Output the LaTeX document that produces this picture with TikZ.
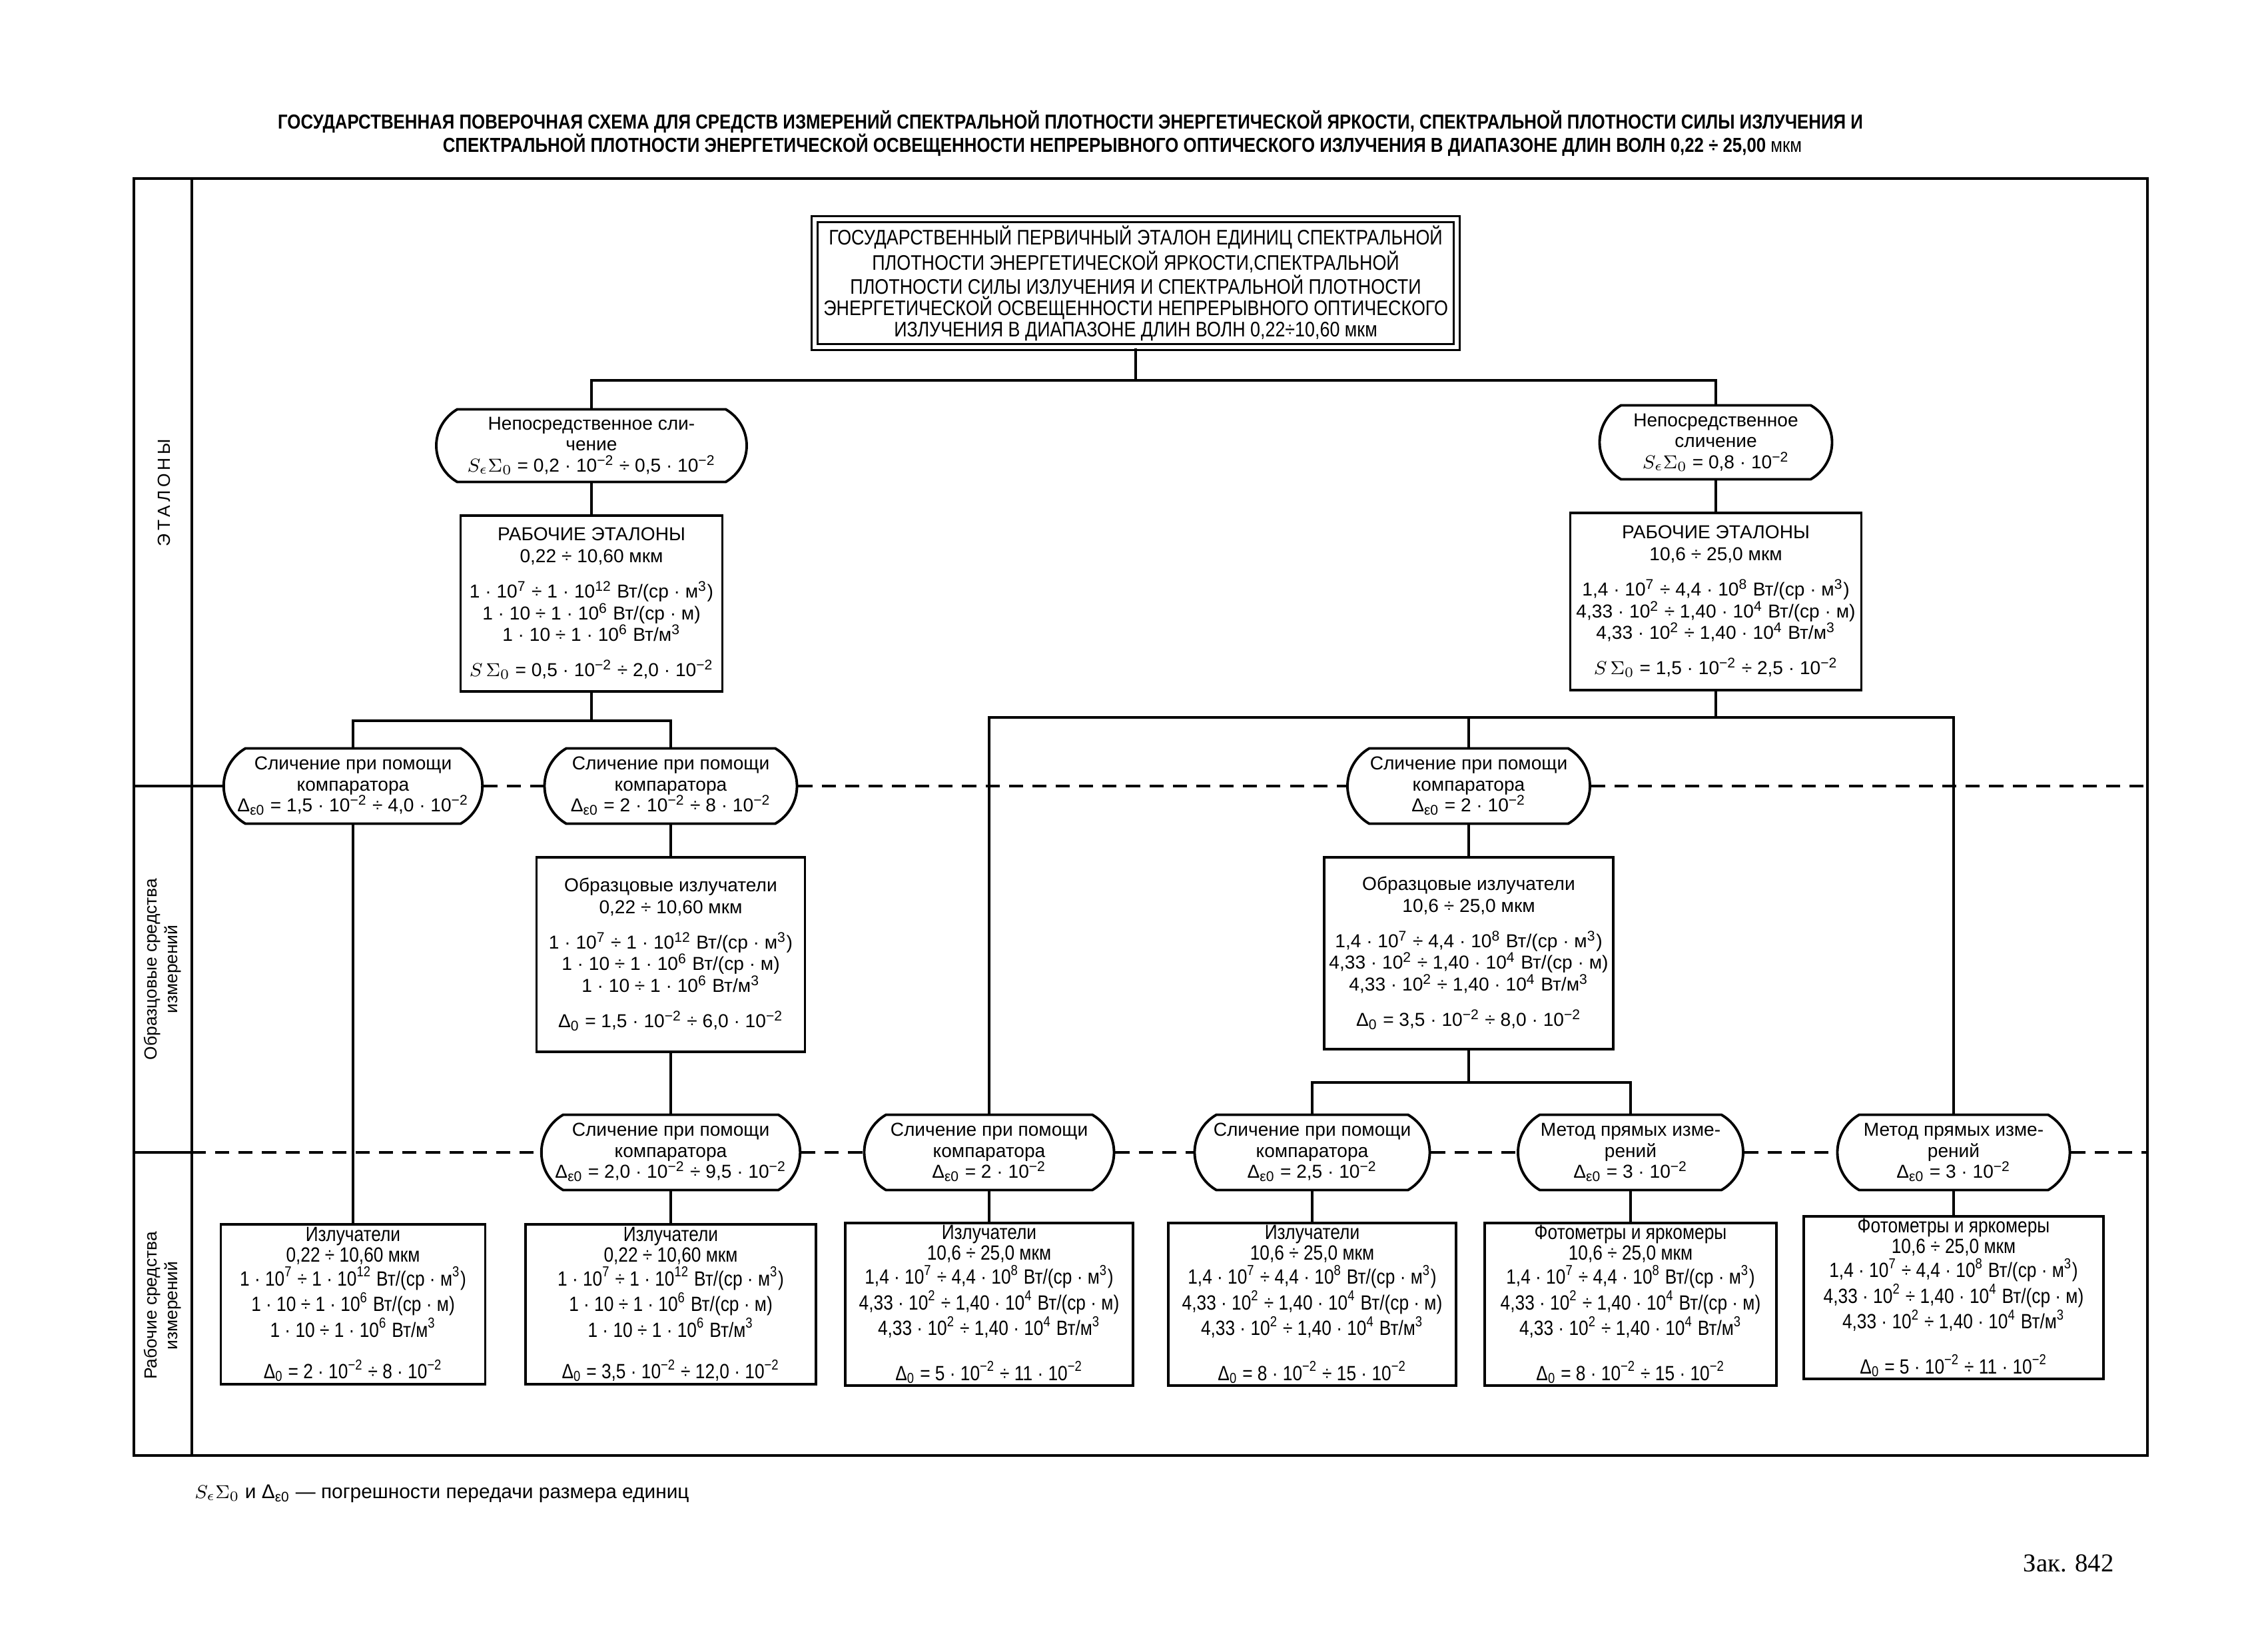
\documentclass[tikz,border=0pt]{standalone}
\usepackage{fontspec}
\setmainfont{Liberation Sans}
\newfontfamily\narrowfont[FakeStretch=0.85]{Liberation Sans}
\newfontfamily\spacedfont[LetterSpace=18]{Liberation Sans}
\newfontfamily\zakfont{Liberation Serif}
\usetikzlibrary{shapes.misc}
\newcommand{\pw}[1]{10\textsuperscript{#1}}
\newcommand{\Deo}{Δ\textsubscript{ε0}}
\newcommand{\Dno}{Δ\textsubscript{0}}
\newcommand{\Seo}{$S_{\epsilon}\Sigma_{0}$}
\newcommand{\Sso}{$S\,\Sigma_{0}$}
\tikzset{
  box/.style={draw, line width=1.1pt, align=center, inner sep=1pt,
    font=\fontsize{8}{9.2}\selectfont},
  lowbox/.style={box, font=\narrowfont\fontsize{8.8}{8.8}\selectfont},
  oval/.style={draw, rounded rectangle, rounded rectangle arc length=120,
    line width=1.1pt, align=center, inner sep=1pt, minimum height=1.13cm,
    font=\fontsize{8}{9}\selectfont},
  link/.style={line width=1pt},
  sep/.style={line width=1.2pt, dash pattern=on 6pt off 4pt},
  frameline/.style={line width=1.3pt},
  sidelabel/.style={rotate=90, align=center, font=\fontsize{7.5}{9}\selectfont}
}
\begin{document}
\begin{tikzpicture}
\useasboundingbox (0,0) rectangle (34.02,-24.80);
\fill[white] (0,0) rectangle (34.02,-24.80);

% title
\node[font=\narrowfont\bfseries\fontsize{8.65}{10}\selectfont] (title1) at (16.07,-1.83)
  {ГОСУДАРСТВЕННАЯ ПОВЕРОЧНАЯ СХЕМА ДЛЯ СРЕДСТВ ИЗМЕРЕНИЙ СПЕКТРАЛЬНОЙ ПЛОТНОСТИ ЭНЕРГЕТИЧЕСКОЙ ЯРКОСТИ, СПЕКТРАЛЬНОЙ ПЛОТНОСТИ СИЛЫ ИЗЛУЧЕНИЯ И};
\node[font=\narrowfont\bfseries\fontsize{8.65}{10}\selectfont] (title2) at (16.85,-2.18)
  {СПЕКТРАЛЬНОЙ ПЛОТНОСТИ ЭНЕРГЕТИЧЕСКОЙ ОСВЕЩЕННОСТИ НЕПРЕРЫВНОГО ОПТИЧЕСКОГО ИЗЛУЧЕНИЯ В ДИАПАЗОНЕ ДЛИН ВОЛН 0,22 ÷ 25,00 \mdseries мкм};

% frame and side column
\draw[frameline] (2.01,-2.68) rectangle (32.24,-21.85);
\draw[frameline] (2.88,-2.68) -- (2.88,-21.85);
\coordinate (s1l) at (2.01,-11.80);
\coordinate (s1r) at (32.24,-11.80);
\coordinate (s2l) at (2.01,-17.30);
\coordinate (s2m) at (2.88,-17.30);
\coordinate (s2r) at (32.24,-17.30);
\node[sidelabel, font=\spacedfont\fontsize{7.5}{9}\selectfont] (lab1) at (2.46,-7.40) {ЭТАЛОНЫ};
\node[sidelabel] (lab2) at (2.44,-14.55) {Образцовые средства\\измерений};
\node[sidelabel] (lab3) at (2.44,-19.60) {Рабочие средства\\измерений};

% primary standard
\node[box, double, double distance=1.6pt, line width=1pt, minimum width=9.64cm, minimum height=1.92cm,
  font=\narrowfont\fontsize{9}{9}\selectfont] (gpe) at (17.05,-4.25)
  {ГОСУДАРСТВЕННЫЙ ПЕРВИЧНЫЙ ЭТАЛОН ЕДИНИЦ СПЕКТРАЛЬНОЙ\\
   ПЛОТНОСТИ ЭНЕРГЕТИЧЕСКОЙ ЯРКОСТИ,СПЕКТРАЛЬНОЙ\\
   ПЛОТНОСТИ СИЛЫ ИЗЛУЧЕНИЯ И СПЕКТРАЛЬНОЙ ПЛОТНОСТИ\\
   ЭНЕРГЕТИЧЕСКОЙ ОСВЕЩЕННОСТИ НЕПРЕРЫВНОГО ОПТИЧЕСКОГО\\
   ИЗЛУЧЕНИЯ В ДИАПАЗОНЕ ДЛИН ВОЛН 0,22÷10,60 мкм};

% working standards
\node[oval, minimum width=4.73cm, minimum height=1.09cm] (ne1) at (8.88,-6.69)
  {Непосредственное сли-\\чение\\\Seo{} = 0,2 · \pw{−2} ÷ 0,5 · \pw{−2}};
\node[oval, minimum width=3.56cm, minimum height=1.11cm] (ne2) at (25.76,-6.64)
  {Непосредственное\\сличение\\\Seo{} = 0,8 · \pw{−2}};
\node[box, minimum width=3.93cm, minimum height=2.64cm] (we1) at (8.88,-9.06)
  {РАБОЧИЕ ЭТАЛОНЫ\\0,22 ÷ 10,60 мкм\\[6pt]
   1 · \pw{7} ÷ 1 · \pw{12} Вт/(ср · м\textsuperscript{3})\\
   1 · 10 ÷ 1 · \pw{6} Вт/(ср · м)\\
   1 · 10 ÷ 1 · \pw{6} Вт/м\textsuperscript{3}\\[6pt]
   \Sso{} = 0,5 · \pw{−2} ÷ 2,0 · \pw{−2}};
\node[box, minimum width=4.37cm, minimum height=2.66cm] (we2) at (25.76,-9.03)
  {РАБОЧИЕ ЭТАЛОНЫ\\10,6 ÷ 25,0 мкм\\[6pt]
   1,4 · \pw{7} ÷ 4,4 · \pw{8} Вт/(ср · м\textsuperscript{3})\\
   4,33 · \pw{2} ÷ 1,40 · \pw{4} Вт/(ср · м)\\
   4,33 · \pw{2} ÷ 1,40 · \pw{4} Вт/м\textsuperscript{3}\\[6pt]
   \Sso{} = 1,5 · \pw{−2} ÷ 2,5 · \pw{−2}};

% comparators, first row
\node[oval, minimum width=3.77cm] (c1) at (5.30,-11.80)
  {Сличение при помощи\\компаратора\\\Deo{} = 1,5 · \pw{−2} ÷ 4,0 · \pw{−2}};
\node[oval, minimum width=3.86cm] (c2) at (10.07,-11.80)
  {Сличение при помощи\\компаратора\\\Deo{} = 2 · \pw{−2} ÷ 8 · \pw{−2}};
\node[oval, minimum width=3.71cm] (c3) at (22.05,-11.80)
  {Сличение при помощи\\компаратора\\\Deo{} = 2 · \pw{−2}};

% reference emitters
\node[box, minimum width=4.03cm, minimum height=2.92cm] (mb1) at (10.07,-14.33)
  {Образцовые излучатели\\0,22 ÷ 10,60 мкм\\[6pt]
   1 · \pw{7} ÷ 1 · \pw{12} Вт/(ср · м\textsuperscript{3})\\
   1 · 10 ÷ 1 · \pw{6} Вт/(ср · м)\\
   1 · 10 ÷ 1 · \pw{6} Вт/м\textsuperscript{3}\\[6pt]
   \Dno{} = 1,5 · \pw{−2} ÷ 6,0 · \pw{−2}};
\node[box, minimum width=4.34cm, minimum height=2.88cm] (mb2) at (22.05,-14.31)
  {Образцовые излучатели\\10,6 ÷ 25,0 мкм\\[6pt]
   1,4 · \pw{7} ÷ 4,4 · \pw{8} Вт/(ср · м\textsuperscript{3})\\
   4,33 · \pw{2} ÷ 1,40 · \pw{4} Вт/(ср · м)\\
   4,33 · \pw{2} ÷ 1,40 · \pw{4} Вт/м\textsuperscript{3}\\[6pt]
   \Dno{} = 3,5 · \pw{−2} ÷ 8,0 · \pw{−2}};

% comparators, second row
\node[oval, minimum width=3.82cm] (ea) at (10.07,-17.30)
  {Сличение при помощи\\компаратора\\\Deo{} = 2,0 · \pw{−2} ÷ 9,5 · \pw{−2}};
\node[oval, minimum width=3.82cm] (eb) at (14.85,-17.30)
  {Сличение при помощи\\компаратора\\\Deo{} = 2 · \pw{−2}};
\node[oval, minimum width=3.60cm] (ec) at (19.70,-17.30)
  {Сличение при помощи\\компаратора\\\Deo{} = 2,5 · \pw{−2}};
\node[oval, minimum width=3.45cm] (ed) at (24.48,-17.30)
  {Метод прямых изме-\\рений\\\Deo{} = 3 · \pw{−2}};
\node[oval, minimum width=3.56cm] (ee) at (29.33,-17.30)
  {Метод прямых изме-\\рений\\\Deo{} = 3 · \pw{−2}};

% working instruments
\node[lowbox, minimum width=3.97cm, minimum height=2.38cm] (b1) at (5.30,-19.58)
  {Излучатели\\0,22 ÷ 10,60 мкм\\
   1 · \pw{7} ÷ 1 · \pw{12} Вт/(ср · м\textsuperscript{3})\\
   1 · 10 ÷ 1 · \pw{6} Вт/(ср · м)\\
   1 · 10 ÷ 1 · \pw{6} Вт/м\textsuperscript{3}\\[9pt]
   \Dno{} = 2 · \pw{−2} ÷ 8 · \pw{−2}};
\node[lowbox, minimum width=4.36cm, minimum height=2.38cm] (b2) at (10.07,-19.58)
  {Излучатели\\0,22 ÷ 10,60 мкм\\
   1 · \pw{7} ÷ 1 · \pw{12} Вт/(ср · м\textsuperscript{3})\\
   1 · 10 ÷ 1 · \pw{6} Вт/(ср · м)\\
   1 · 10 ÷ 1 · \pw{6} Вт/м\textsuperscript{3}\\[9pt]
   \Dno{} = 3,5 · \pw{−2} ÷ 12,0 · \pw{−2}};
\node[lowbox, minimum width=4.32cm, minimum height=2.38cm] (b3) at (14.85,-19.58)
  {Излучатели\\10,6 ÷ 25,0 мкм\\
   1,4 · \pw{7} ÷ 4,4 · \pw{8} Вт/(ср · м\textsuperscript{3})\\
   4,33 · \pw{2} ÷ 1,40 · \pw{4} Вт/(ср · м)\\
   4,33 · \pw{2} ÷ 1,40 · \pw{4} Вт/м\textsuperscript{3}\\[9pt]
   \Dno{} = 5 · \pw{−2} ÷ 11 · \pw{−2}};
\node[lowbox, minimum width=4.32cm, minimum height=2.38cm] (b4) at (19.70,-19.58)
  {Излучатели\\10,6 ÷ 25,0 мкм\\
   1,4 · \pw{7} ÷ 4,4 · \pw{8} Вт/(ср · м\textsuperscript{3})\\
   4,33 · \pw{2} ÷ 1,40 · \pw{4} Вт/(ср · м)\\
   4,33 · \pw{2} ÷ 1,40 · \pw{4} Вт/м\textsuperscript{3}\\[9pt]
   \Dno{} = 8 · \pw{−2} ÷ 15 · \pw{−2}};
\node[lowbox, minimum width=4.38cm, minimum height=2.38cm] (b5) at (24.48,-19.58)
  {Фотометры и яркомеры\\10,6 ÷ 25,0 мкм\\
   1,4 · \pw{7} ÷ 4,4 · \pw{8} Вт/(ср · м\textsuperscript{3})\\
   4,33 · \pw{2} ÷ 1,40 · \pw{4} Вт/(ср · м)\\
   4,33 · \pw{2} ÷ 1,40 · \pw{4} Вт/м\textsuperscript{3}\\[9pt]
   \Dno{} = 8 · \pw{−2} ÷ 15 · \pw{−2}};
\node[lowbox, minimum width=4.50cm, minimum height=2.40cm] (b6) at (29.33,-19.48)
  {Фотометры и яркомеры\\10,6 ÷ 25,0 мкм\\
   1,4 · \pw{7} ÷ 4,4 · \pw{8} Вт/(ср · м\textsuperscript{3})\\
   4,33 · \pw{2} ÷ 1,40 · \pw{4} Вт/(ср · м)\\
   4,33 · \pw{2} ÷ 1,40 · \pw{4} Вт/м\textsuperscript{3}\\[9pt]
   \Dno{} = 5 · \pw{−2} ÷ 11 · \pw{−2}};

% connectors
\coordinate (jt) at (17.05,-5.71);
\coordinate (jl) at (8.88,-10.82);
\coordinate (jr) at (25.76,-10.77);
\coordinate (jm) at (22.05,-16.25);
\begin{scope}[link]
  \draw (gpe.south) -- (jt);
  \draw (ne1.north) |- (jt) -| (ne2.north);
  \draw (ne1.south) -- (we1.north);
  \draw (ne2.south) -- (we2.north);
  \draw (we1.south) -- (jl);
  \draw (c1.north) |- (jl) -| (c2.north);
  \draw (we2.south) -- (jr);
  \draw (eb.north) |- (jr) -| (ee.north);
  \draw (c3.north) -- (c3.north |- jr);
  \draw (c1.south) -- (b1.north);
  \draw (c2.south) -- (mb1.north);
  \draw (mb1.south) -- (ea.north);
  \draw (ea.south) -- (b2.north);
  \draw (c3.south) -- (mb2.north);
  \draw (mb2.south) -- (jm);
  \draw (ec.north) |- (jm) -| (ed.north);
  \draw (eb.south) -- (b3.north);
  \draw (ec.south) -- (b4.north);
  \draw (ed.south) -- (b5.north);
  \draw (ee.south) -- (b6.north);
\end{scope}

% level borders
\draw[frameline] (s1l) -- (c1.west);
\draw[sep] (c1.east) -- (c2.west);
\draw[sep] (c2.east) -- (c3.west);
\draw[sep] (c3.east) -- (s1r);
\draw[frameline] (s2l) -- (s2m);
\draw[sep] (s2m) -- (ea.west);
\draw[sep] (ea.east) -- (eb.west);
\draw[sep] (eb.east) -- (ec.west);
\draw[sep] (ec.east) -- (ed.west);
\draw[sep] (ed.east) -- (ee.west);
\draw[sep] (ee.east) -- (s2r);

% footnote
\node[anchor=west, font=\fontsize{8.5}{10}\selectfont] (note) at (2.80,-22.42)
  {\Seo{} и \Deo{} — погрешности передачи размера единиц};
\node[anchor=east, font=\zakfont\fontsize{11}{13}\selectfont] (zak) at (31.86,-23.47) {Зак. 842};
\end{tikzpicture}
\end{document}
